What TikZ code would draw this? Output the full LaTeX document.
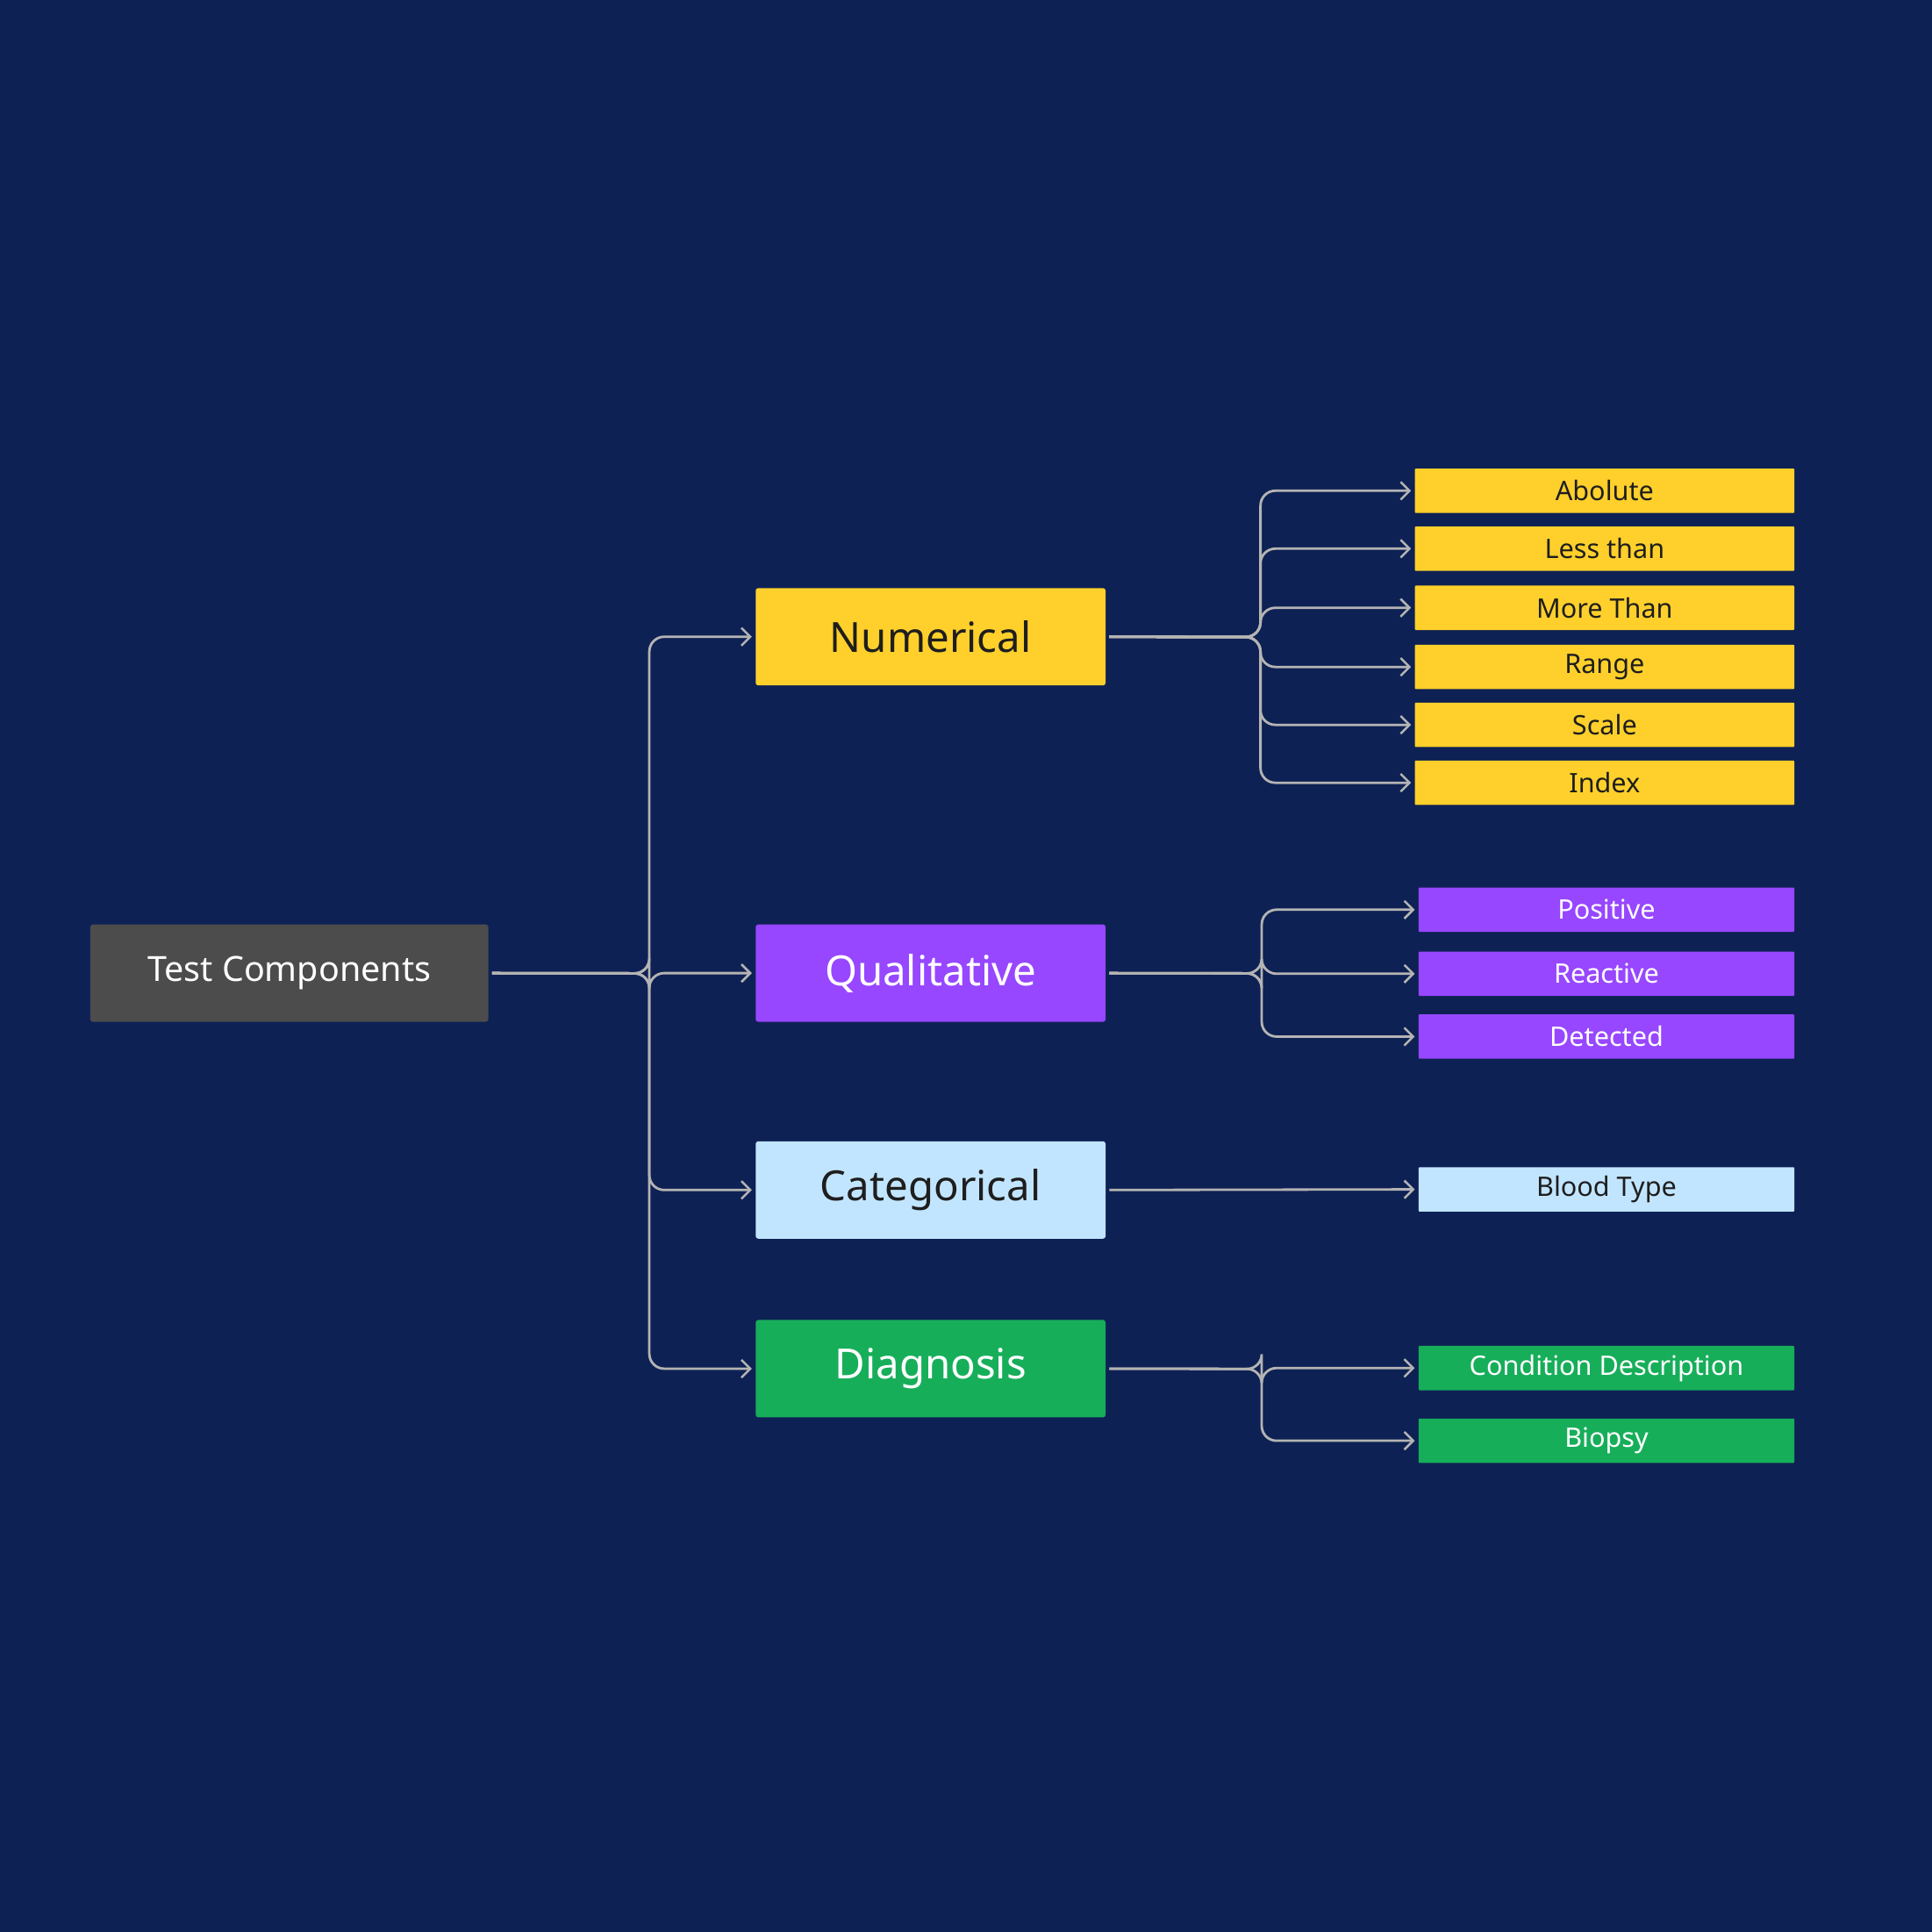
\documentclass[tikz,border=0pt]{standalone}
\usepackage{fontspec}
\setmainfont{Noto Sans}
\usetikzlibrary{arrows.meta}
\definecolor{bg}{HTML}{0E2154}
\definecolor{yel}{HTML}{FFD02B}
\definecolor{pur}{HTML}{9747FF}
\definecolor{lb}{HTML}{C2E5FF}
\definecolor{grn}{HTML}{17AE5A}
\definecolor{ln}{HTML}{B4B4B4}
\definecolor{dk}{HTML}{1E1E1E}
\begin{document}
\begin{tikzpicture}[x=0.25mm,y=-0.25mm,
 box/.style={draw=none,rounded corners=1.5pt,inner sep=0,anchor=north west},
 main/.style={box,minimum width=71mm,minimum height=19.75mm,font=\fontsize{24}{28}\selectfont\bfseries},
 leaf/.style={box,rounded corners=0.5pt,minimum height=9mm,font=\fontsize{15.5}{18}\selectfont},
 conn/.style={draw=ln,line width=0.5mm,rounded corners=3mm,-{Straight Barb[length=1.8mm,width=3.6mm,line width=0.45mm]}}]
\fill[bg] (0,0) rectangle (1568,1568);
\node[box,fill=black!70,minimum width=80.75mm,minimum height=19.75mm,text=white,font=\fontsize{20}{24}\selectfont] (tc) at (73,750) {Test Components};
\node[main,fill=yel,text=dk] (num) at (613,477) {Numerical};
\node[main,fill=pur,text=white] (qual) at (613,750) {Qualitative};
\node[main,fill=lb,text=dk] (cat) at (613,926) {Categorical};
\node[main,fill=grn,text=white] (diag) at (613,1071) {Diagnosis};
\foreach \n/\y/\t in {a/380/Abolute,b/427/Less than,c/475/More Than,d/523/Range,e/570/Scale,f/617/Index / Score}
 \node[leaf,fill=yel,text=dk,minimum width=77mm] (n\n) at (1148,\y) {\t};
\foreach \n/\y/\t in {a/720/Positive / Negative,b/772/Reactive / Non-Reactive,c/823/Detected / Not Reactive}
 \node[leaf,fill=pur,text=white,minimum width=76.25mm] (q\n) at (1151,\y) {\t};
\node[leaf,fill=lb,text=dk,minimum width=76.25mm] (bt) at (1151,947) {Blood Type};
\node[leaf,fill=grn,text=white,minimum width=76.25mm] (cd) at (1151,1092) {Condition Description};
\node[leaf,fill=grn,text=white,minimum width=76.25mm] (bi) at (1151,1151) {Biopsy};
\foreach \m in {num,qual,cat,diag}
 \draw[conn] ([xshift=2]tc.east) -- (527,790) |- ([xshift=-2]\m.west);
\foreach \m in {a,b,c,d,e,f}
 \draw[conn] ([xshift=2]num.east) -- (1023,517) |- ([xshift=-2]n\m.west);
\foreach \m in {a,b,c}
 \draw[conn] ([xshift=2]qual.east) -- (1024,790) |- ([xshift=-2]q\m.west);
\draw[conn] ([xshift=2]cat.east) -- ([xshift=-2]bt.west);
\foreach \m in {cd,bi}
 \draw[conn] ([xshift=2]diag.east) -- (1024,1111) |- ([xshift=-2]\m.west);
\end{tikzpicture}
\end{document}
